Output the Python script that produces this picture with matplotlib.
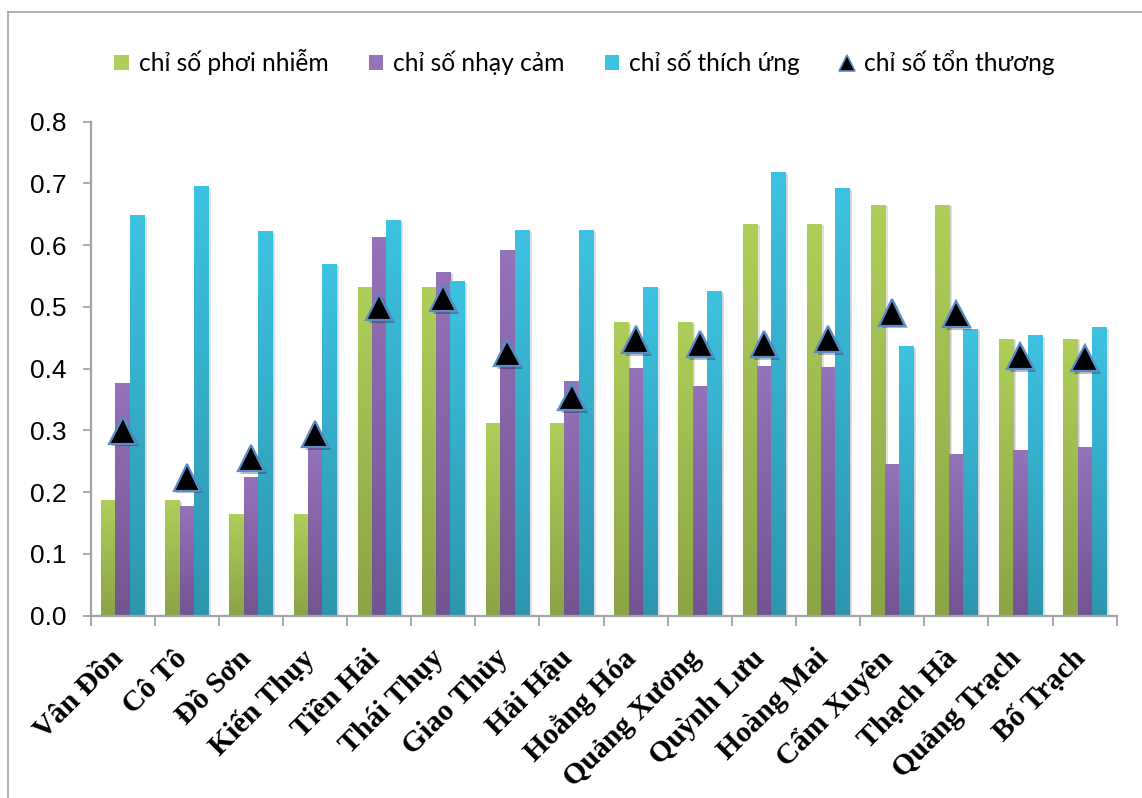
import numpy as np
import matplotlib
matplotlib.use("Agg")
import matplotlib.pyplot as plt
from matplotlib.colors import LinearSegmentedColormap
from matplotlib.patches import Rectangle, Patch
from matplotlib.lines import Line2D
from matplotlib.transforms import ScaledTranslation
import matplotlib.patheffects as pe

# ---- data ---------------------------------------------------------------
districts = ["Vân Đồn", "Cô Tô", "Đồ Sơn", "Kiến Thụy", "Tiền Hải", "Thái Thụy",
             "Giao Thủy", "Hải Hậu", "Hoằng Hóa", "Quảng Xương", "Quỳnh Lưu",
             "Hoàng Mai", "Cẩm Xuyên", "Thạch Hà", "Quảng Trạch", "Bố Trạch"]
phoi_nhiem = [0.187, 0.187, 0.165, 0.165, 0.532, 0.532, 0.312, 0.312,
              0.475, 0.475, 0.634, 0.634, 0.665, 0.665, 0.448, 0.448]
nhay_cam = [0.377, 0.178, 0.225, 0.280, 0.613, 0.556, 0.592, 0.380,
            0.401, 0.372, 0.404, 0.402, 0.245, 0.262, 0.268, 0.273]
thich_ung = [0.648, 0.695, 0.622, 0.569, 0.640, 0.541, 0.624, 0.624,
             0.532, 0.525, 0.718, 0.692, 0.436, 0.464, 0.454, 0.467]
ton_thuong = [0.300, 0.224, 0.255, 0.294, 0.500, 0.514, 0.425, 0.354,
              0.447, 0.440, 0.440, 0.448, 0.491, 0.488, 0.420, 0.417]
series_labels = ["chỉ số phơi nhiễm", "chỉ số nhạy cảm", "chỉ số thích ứng", "chỉ số tổn thương"]
y_ticks = [0.0, 0.1, 0.2, 0.3, 0.4, 0.5, 0.6, 0.7, 0.8]

# ---- style --------------------------------------------------------------
bar_colors = [("#8ba446", "#aecf5a"),   # (bottom, top)
              ("#725490", "#9473b9"),
              ("#2d96ae", "#3ec2e1")]
axis_gray = "#a3a3a3"
bar_w = 0.222

fig = plt.figure(figsize=(11.42, 7.98), dpi=100)
ax = fig.add_axes([90.5 / 1142, 1 - 615.7 / 798, 1026.2 / 1142, (615.7 - 121.5) / 798])

x = np.arange(len(districts))
grad = np.linspace(0, 1, 256).reshape(-1, 1)
shadow = [pe.SimplePatchShadow(offset=(2.0, -1.0), shadow_rgbFace="#000000", alpha=0.12),
          pe.SimplePatchShadow(offset=(1.0, -0.5), shadow_rgbFace="#000000", alpha=0.08)]

for k, vals in enumerate([phoi_nhiem, nhay_cam, thich_ung]):
    cmap = LinearSegmentedColormap.from_list(f"g{k}", list(bar_colors[k]))
    for xi, v in zip(x, vals):
        x0 = xi + (k - 1) * bar_w - bar_w / 2
        # soft shadow behind each bar
        sh = Rectangle((x0, 0), bar_w, v, facecolor="none", edgecolor="none",
                       zorder=1.5, path_effects=shadow)
        ax.add_patch(sh)
        ax.imshow(grad, extent=[x0, x0 + bar_w, 0, v], origin="lower", aspect="auto",
                  cmap=cmap, interpolation="bilinear", zorder=2)

ax.plot(x, ton_thuong, linestyle="none", marker="^", markersize=19,
        markerfacecolor="black", markeredgecolor="#5b8bc6", markeredgewidth=1.6,
        zorder=5,
        path_effects=[pe.SimplePatchShadow(offset=(2, -2), shadow_rgbFace="#000000", alpha=0.25),
                      pe.Normal()])

ax.set_xlim(-0.5, len(districts) - 0.5)
ax.set_ylim(0, 0.8)

# axes styling
for s in ["top", "right"]:
    ax.spines[s].set_visible(False)
for s in ["left", "bottom"]:
    ax.spines[s].set_color(axis_gray)
    ax.spines[s].set_linewidth(1.6)

ax.set_yticks(y_ticks)
ax.set_yticklabels([f"{t:.1f}" for t in y_ticks], fontfamily="Liberation Sans", fontsize=19)
ax.tick_params(axis="y", direction="out", length=6, width=1.3, color=axis_gray, pad=11)

ax.set_xticks(np.arange(-0.5, len(districts)))
ax.set_xticklabels([])
ax.tick_params(axis="x", direction="out", length=7, width=1.3, color=axis_gray)

# rotated district names under each group
label_tr = ax.get_xaxis_transform() + ScaledTranslation(6 / 100, -29 / 100, fig.dpi_scale_trans)
for xi, name in zip(x, districts):
    ax.text(xi, 0, name, transform=label_tr, rotation=45, ha="right", va="top",
            fontfamily="Liberation Serif", fontweight="bold", fontsize=21.5, clip_on=False)

# legend
handles = [Patch(facecolor=bar_colors[0][1], edgecolor="none"),
           Patch(facecolor=bar_colors[1][1], edgecolor="none"),
           Patch(facecolor=bar_colors[2][1], edgecolor="none"),
           Line2D([], [], linestyle="none", marker="^", markersize=12,
                  markerfacecolor="black", markeredgecolor="#5b8bc6", markeredgewidth=1.2)]
fig.legend(handles, series_labels, loc="center", bbox_to_anchor=(0.512, 1 - 62 / 798),
           ncol=4, frameon=False, prop={"family": "Lato", "size": 17.7},
           handlelength=0.6, handleheight=0.6, handletextpad=0.4, columnspacing=1.62)

# outer chart border
fig.add_artist(Line2D([7.5 / 1142, 1.0], [1 - 12 / 798, 1 - 12 / 798],
                      transform=fig.transFigure, color=axis_gray, linewidth=1.2))
fig.add_artist(Line2D([7.5 / 1142, 7.5 / 1142], [0.0, 1 - 12 / 798],
                      transform=fig.transFigure, color=axis_gray, linewidth=1.2))

fig.savefig("out.png", dpi=100)
